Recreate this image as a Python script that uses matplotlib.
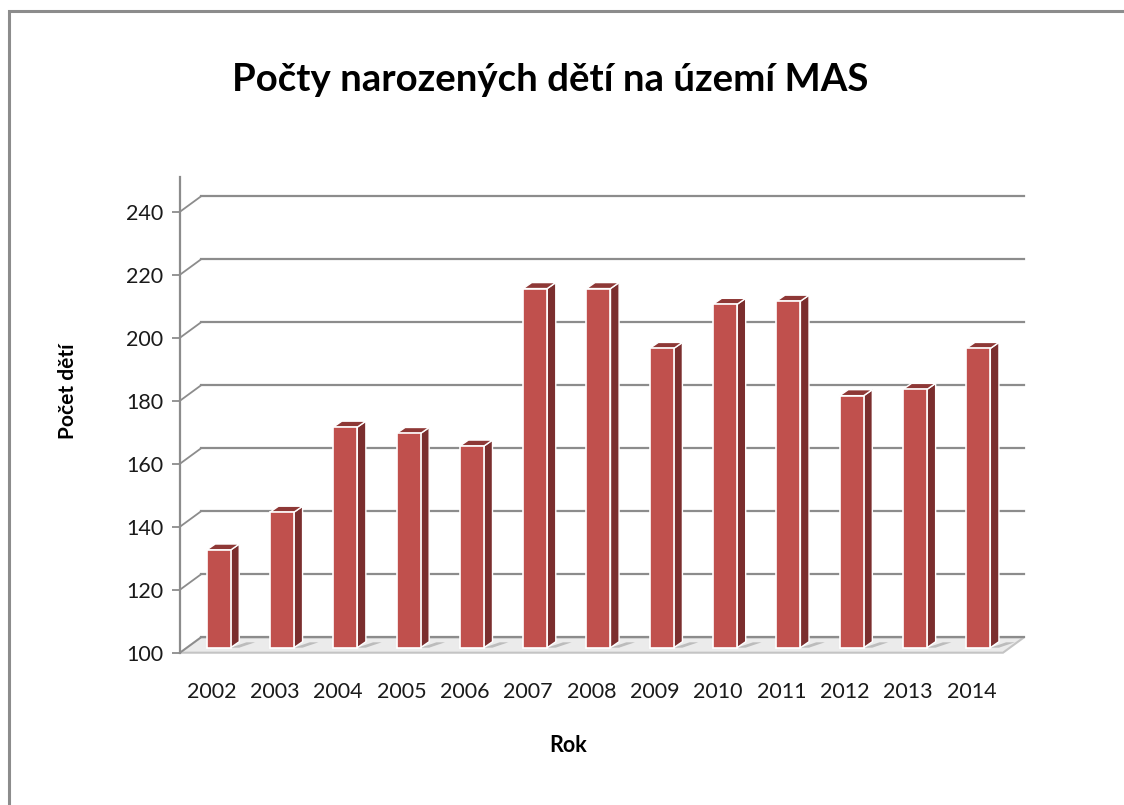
import matplotlib

matplotlib.use("Agg")
import matplotlib.pyplot as plt
from matplotlib.patches import Polygon, Rectangle

plt.rcParams["font.family"] = ["Lato", "DejaVu Sans"]

# data
years = ["2002", "2003", "2004", "2005", "2006", "2007", "2008",
         "2009", "2010", "2011", "2012", "2013", "2014"]
births = [131, 143, 170, 168, 164, 214, 214, 195, 209, 210, 180, 182, 195]
y_ticks = [100, 120, 140, 160, 180, 200, 220, 240]

title = "Počty narozených dětí na území MAS"
x_title = "Rok"
y_title = "Počet dětí"

# colours / fake-3d geometry (Excel 3D column look)
C_FRONT, C_SIDE, C_TOP = "#C0504D", "#7B2E2E", "#8E3836"
C_GRID = "#8C8C8C"
WALL_DX, WALL_DY = 0.33, 4.85     # back wall offset (category units, value units)
BAR_DX, BAR_DY = 0.11, 1.6        # bar front plane offset
BAR_W = 0.38
SIDE_DX, SIDE_DY = 0.136, 1.9     # bar depth
YMIN, YMAX = 100, 240

fig = plt.figure(figsize=(11.24, 8.05), dpi=100)
W, H = 1124, 805
ax = fig.add_axes([180 / W, (H - 652.7) / H, 823 / W, 441 / H])
ax.set_xlim(-0.5, len(years) - 0.5)
ax.set_ylim(YMIN, YMAX)
for s in ax.spines.values():
    s.set_visible(False)

n = len(years)
x_left, x_right = -0.5, n - 0.5

# floor
floor = Polygon([(x_left, YMIN), (x_right, YMIN),
                 (x_right + WALL_DX, YMIN + WALL_DY),
                 (x_left + WALL_DX, YMIN + WALL_DY)],
                closed=True, facecolor="#EBEBEB", edgecolor="#C4C4C4",
                lw=1.5, clip_on=False, zorder=1)
ax.add_patch(floor)

# back-wall gridlines + left wall diagonals
for v in y_ticks:
    ax.plot([x_left + WALL_DX, x_right + WALL_DX], [v + WALL_DY] * 2,
            color=C_GRID, lw=1.6, clip_on=False, zorder=2)
    ax.plot([x_left, x_left + WALL_DX], [v, v + WALL_DY],
            color=C_GRID, lw=1.3, clip_on=False, zorder=2)

# front vertical axis line
ax.plot([x_left, x_left], [YMIN, YMAX + 2.3 * WALL_DY], color=C_GRID,
        lw=1.6, clip_on=False, zorder=2)

# bars: front face through ax.bar, depth faces derived from the same values
xs = [i + BAR_DX for i in range(n)]
heights = [v - YMIN for v in births]
ax.bar(xs, heights, width=BAR_W, bottom=YMIN + BAR_DY, color=C_FRONT,
       edgecolor="white", linewidth=1.2, zorder=5, clip_on=False)
for x, v in zip(xs, births):
    xl, xr = x - BAR_W / 2, x + BAR_W / 2
    top, bot = v + BAR_DY, YMIN + BAR_DY
    # shadow on the floor
    ax.add_patch(Polygon([(xr, bot), (xr + 0.25, bot + WALL_DY * 0.35),
                          (xr + 0.25 + SIDE_DX, bot + WALL_DY * 0.35),
                          (xr + SIDE_DX, bot)],
                         closed=True, facecolor="#A8A8A8", edgecolor="none",
                         alpha=0.7, zorder=3, clip_on=False))
    ax.add_patch(Polygon([(xr, bot), (xr + SIDE_DX, bot + SIDE_DY),
                          (xr + SIDE_DX, top + SIDE_DY), (xr, top)],
                         closed=True, facecolor=C_SIDE, edgecolor="white",
                         lw=1.0, zorder=4, clip_on=False))
    ax.add_patch(Polygon([(xl, top), (xl + SIDE_DX, top + SIDE_DY),
                          (xr + SIDE_DX, top + SIDE_DY), (xr, top)],
                         closed=True, facecolor=C_TOP, edgecolor="white",
                         lw=1.0, zorder=4, clip_on=False))

ax.set_yticks(y_ticks)
ax.set_yticklabels([str(v) for v in y_ticks])
ax.tick_params(axis="y", length=6, width=1.3, color=C_GRID, pad=6,
               labelsize=15.5, labelcolor="#1A1A1A")
ax.set_xticks(range(n))
ax.set_xticklabels(years)
ax.tick_params(axis="x", length=0, pad=21, labelsize=15.5, labelcolor="#1A1A1A")

fig.text(68 / W, 1 - 391 / H, y_title, rotation=90, ha="center",
         va="center", fontsize=15, fontweight="bold", color="#000000")
fig.text(568 / W, 1 - 745 / H, x_title, ha="center", va="center",
         fontsize=15.5, fontweight="bold", color="#000000")

t = fig.text(550 / W, 1 - 80 / H, title, ha="center", va="center",
             fontsize=24, fontweight="bold", color="#000000")
# fit title width to the reference (~636 px)
fig.canvas.draw()
w = t.get_window_extent().width
t.set_fontsize(24 * 636 / w)

# outer chart border (runs off the right/bottom edge)
fig.add_artist(Rectangle((8.5 / W, -0.02), 1.05, 1 - 10.5 / H + 0.02,
                         transform=fig.transFigure, fill=False,
                         edgecolor="#8C8C8C", lw=2.2))

fig.savefig("out.png", dpi=100)
